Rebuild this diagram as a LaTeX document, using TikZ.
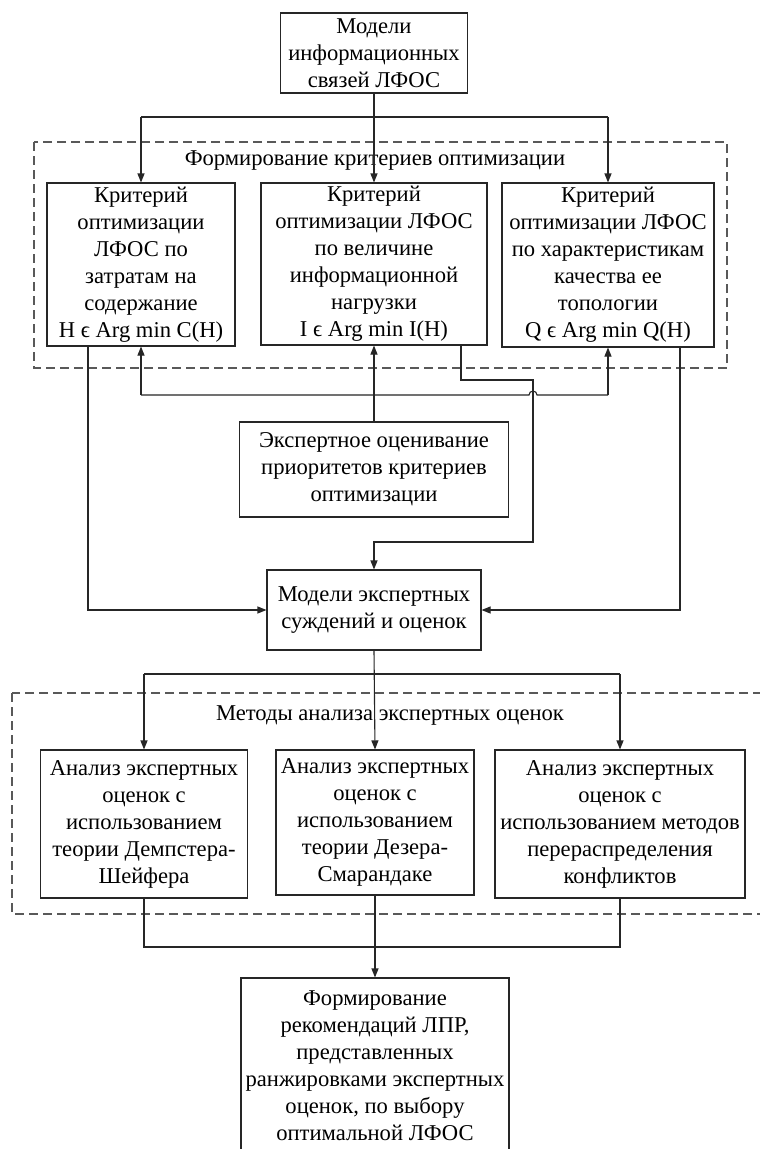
\documentclass[tikz,border=0pt]{standalone}
\usepackage{fontspec}
\setmainfont{Liberation Serif}
\usetikzlibrary{arrows.meta,calc}
\begin{document}
\begin{tikzpicture}[x=1pt,y=1pt,
  box/.style={draw=black!85, line width=1.1pt, align=center, inner sep=0pt,
    font=\fontsize{22.6}{27}\selectfont},
  ttl/.style={inner sep=0pt, font=\fontsize{22.6}{27}\selectfont},
  grp/.style={draw=black!65, dash pattern=on 9pt off 5pt, line width=1.3pt},
  arr/.style={draw=black!85, -{Triangle[length=9pt,width=7pt]}, line width=1.1pt},
  ln/.style={draw=black!85, line width=1.1pt}]
\useasboundingbox (0,0) rectangle (760,-1149);
\fill[white] (0,0) rectangle (760,-1149);

% group frames
\draw[grp] (34,-142) rectangle (727,-368);
\draw[grp] (12,-693) rectangle (775,-914);

% nodes
\node[box, minimum width=187pt, minimum height=80pt] (top) at (374,-53) {Модели\\информационных\\связей ЛФОС};
\node[ttl] (t1) at (375,-161) {Формирование критериев оптимизации};
\node[box, minimum width=188pt, minimum height=163pt] (c1) at (141,-264.5) {Критерий\\оптимизации\\ЛФОС по\\затратам на\\содержание\\H ϵ Arg min C(H)};
\node[box, minimum width=226pt, minimum height=162pt] (c2) at (374,-264) {Критерий\\оптимизации ЛФОС\\по величине\\информационной\\нагрузки\\I ϵ Arg min I(H)};
\node[box, minimum width=212pt, minimum height=164pt] (c3) at (608,-265) {Критерий\\оптимизации ЛФОС\\по характеристикам\\качества ее\\топологии\\Q ϵ Arg min Q(H)};
\node[box, minimum width=269pt, minimum height=95pt] (ex) at (374,-469.5) {Экспертное оценивание\\приоритетов критериев\\оптимизации};
\node[box, minimum width=214pt, minimum height=80pt] (mod) at (374,-610) {Модели экспертных\\суждений и оценок};
\node[ttl] (t2) at (390,-715) {Методы анализа экспертных оценок};
\node[box, minimum width=207pt, minimum height=148pt] (a1) at (144,-824) {Анализ экспертных\\оценок с\\использованием\\теории Демпстера-\\Шейфера};
\node[box, minimum width=198pt, minimum height=145pt] (a2) at (375,-822.5) {Анализ экспертных\\оценок с\\использованием\\теории Дезера-\\Смарандаке};
\node[box, minimum width=250pt, minimum height=148pt] (a3) at (620,-824) {Анализ экспертных\\оценок с\\использованием методов\\перераспределения\\конфликтов};
\node[box, minimum width=268pt, minimum height=175pt] (fin) at (375,-1065.5) {Формирование\\рекомендаций ЛПР,\\представленных\\ранжировками экспертных\\оценок, по выбору\\оптимальной ЛФОС};

% top distribution
\coordinate (h1l) at (141,-117);
\coordinate (h1r) at (608,-117);
\draw[ln] (h1l) -- (h1r);
\draw[arr] (top.south) -- (c2.north);
\draw[arr] (h1l) -- (c1.north);
\draw[arr] (h1r) -- (c3.north);

% feedback from expert box
\coordinate (h2l) at (141,-395);
\coordinate (h2r) at (608,-395);
\coordinate (hop) at (529,-395);
\draw[ln] (h2l) -- (hop) arc (180:0:4) -- (h2r);
\draw[arr] (ex.north) -- (c2.south);
\draw[arr] (h2l) -- (c1.south);
\draw[arr] (h2r) -- (c3.south);

% criteria to models
\coordinate (xl) at (88,0);
\coordinate (xr) at (680,0);
\coordinate (xm) at (461,0);
\coordinate (jA) at (533,-380);
\coordinate (jB) at (533,-542);
\draw[arr] (c1.south -| xl) |- (mod.west);
\draw[arr] (c3.south -| xr) |- (mod.east);
\draw[arr] (c2.south -| xm) |- (jA) -- (jB) -| (mod.north);

% models to analysis
\coordinate (h3l) at (144,-674);
\coordinate (h3r) at (620,-674);
\draw[ln] (h3l) -- (h3r);
\draw[arr] (mod.south) -- (a2.north);
\draw[arr] (h3l) -- (a1.north);
\draw[arr] (h3r) -- (a3.north);

% analysis to final
\coordinate (h4l) at (144,-947);
\coordinate (h4r) at (620,-947);
\draw[ln] (a1.south) -- (h4l) -- (h4r) -- (a3.south);
\draw[arr] (a2.south) -- (fin.north);
\end{tikzpicture}
\end{document}
